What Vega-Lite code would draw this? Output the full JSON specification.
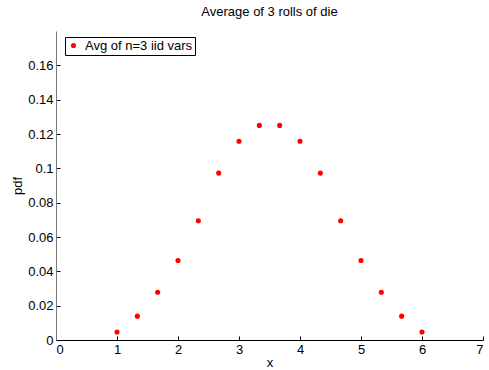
{
  "$schema": "https://vega.github.io/schema/vega-lite/v6.json",
  "autosize": "none",
  "padding": {"left": 56, "top": 31, "right": 6, "bottom": 30},
  "width": 427,
  "height": 309,
  "background": "white",
  "title": {"text": "Average of 3 rolls of die", "fontSize": 13, "fontWeight": "normal", "font": "Liberation Sans", "color": "black", "offset": 12},
  "config": {
    "view": {"stroke": null},
    "axis": {"labelFont": "Liberation Sans", "titleFont": "Liberation Sans", "labelFontSize": 13, "titleFontSize": 13, "titleFontWeight": "normal", "labelColor": "black", "titleColor": "black", "grid": false, "tickColor": "black", "domainColor": "black"}
  },
  "data": {"values": [
    {"x": 1, "pdf": 0.00463, "series": "Avg of n=3 iid vars"},
    {"x": 1.3333, "pdf": 0.01389, "series": "Avg of n=3 iid vars"},
    {"x": 1.6667, "pdf": 0.02778, "series": "Avg of n=3 iid vars"},
    {"x": 2, "pdf": 0.0463, "series": "Avg of n=3 iid vars"},
    {"x": 2.3333, "pdf": 0.06944, "series": "Avg of n=3 iid vars"},
    {"x": 2.6667, "pdf": 0.09722, "series": "Avg of n=3 iid vars"},
    {"x": 3, "pdf": 0.11574, "series": "Avg of n=3 iid vars"},
    {"x": 3.3333, "pdf": 0.125, "series": "Avg of n=3 iid vars"},
    {"x": 3.6667, "pdf": 0.125, "series": "Avg of n=3 iid vars"},
    {"x": 4, "pdf": 0.11574, "series": "Avg of n=3 iid vars"},
    {"x": 4.3333, "pdf": 0.09722, "series": "Avg of n=3 iid vars"},
    {"x": 4.6667, "pdf": 0.06944, "series": "Avg of n=3 iid vars"},
    {"x": 5, "pdf": 0.0463, "series": "Avg of n=3 iid vars"},
    {"x": 5.3333, "pdf": 0.02778, "series": "Avg of n=3 iid vars"},
    {"x": 5.6667, "pdf": 0.01389, "series": "Avg of n=3 iid vars"},
    {"x": 6, "pdf": 0.00463, "series": "Avg of n=3 iid vars"}
  ]},
  "mark": {"type": "point", "filled": true, "shape": "circle", "size": 26, "opacity": 1},
  "encoding": {
    "x": {"field": "x", "type": "quantitative", "scale": {"domain": [0, 7], "nice": false, "zero": false},
      "axis": {"values": [0,1,2,3,4,5,6,7], "title": "x", "tickSize": -4, "labelPadding": 7, "titlePadding": 0, "domainWidth": 1}},
    "y": {"field": "pdf", "type": "quantitative", "scale": {"domain": [0, 0.18], "nice": false},
      "axis": {"values": [0,0.02,0.04,0.06,0.08,0.1,0.12,0.14,0.16], "format": "~g", "title": "pdf", "tickSize": -4, "labelPadding": 7, "titlePadding": 3, "domainColor": "#777777"}},
    "color": {"field": "series", "type": "nominal", "scale": {"range": ["#ff0000"]},
      "legend": {"title": null, "orient": "none", "legendX": 9, "legendY": 6, "strokeColor": "black", "fillColor": "white", "padding": 2, "labelFont": "Liberation Sans", "labelFontSize": 13, "labelColor": "black", "symbolSize": 26, "symbolType": "circle", "labelOffset": 5}}
  }
}
